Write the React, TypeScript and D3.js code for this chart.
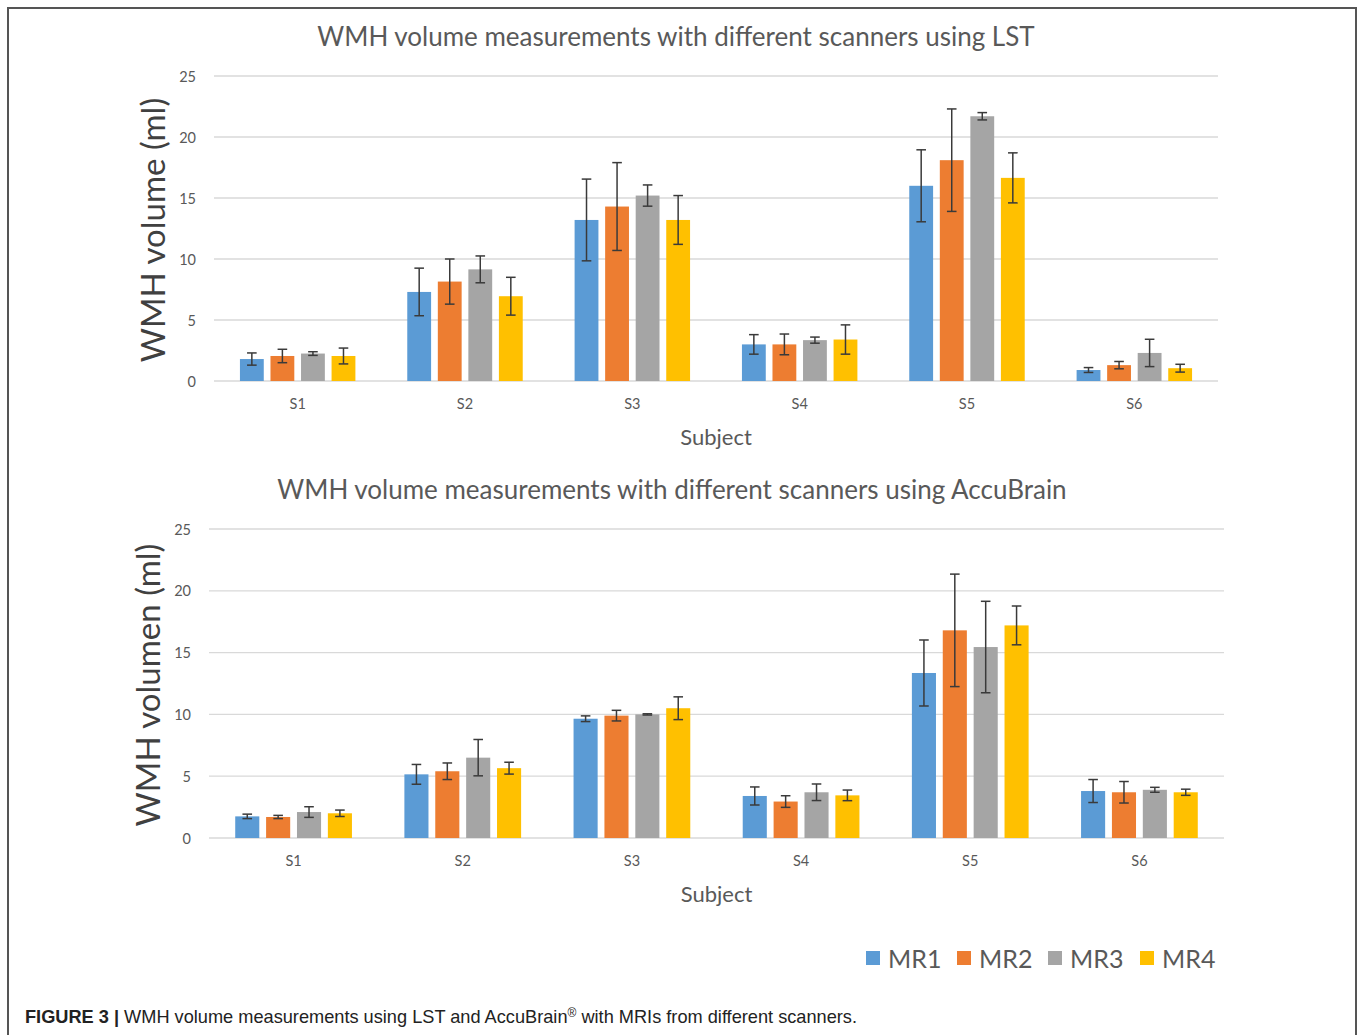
import React from "react";
import * as d3 from "d3";

// Subjects and scanners
const subjects = ["S1", "S2", "S3", "S4", "S5", "S6"];
const scanners = ["MR1", "MR2", "MR3", "MR4"];
const scannerColors = ["#5B9BD5", "#ED7D31", "#A5A5A5", "#FFC000"];
const yTicks = [0, 5, 10, 15, 20, 25];

// LST volumes (ml) per scanner, mean and error
const lstMR1 = [1.8, 7.3, 13.2, 3.0, 16.0, 0.9];
const lstMR2 = [2.05, 8.15, 14.3, 3.0, 18.1, 1.3];
const lstMR3 = [2.25, 9.15, 15.2, 3.35, 21.7, 2.3];
const lstMR4 = [2.05, 6.95, 13.2, 3.4, 16.65, 1.05];
const lstErr1 = [0.5, 1.95, 3.35, 0.8, 2.95, 0.2];
const lstErr2 = [0.55, 1.85, 3.6, 0.85, 4.2, 0.3];
const lstErr3 = [0.15, 1.1, 0.87, 0.25, 0.3, 1.12];
const lstErr4 = [0.65, 1.55, 2.0, 1.2, 2.05, 0.32];

// AccuBrain volumes (ml) per scanner, mean and error
const accMR1 = [1.75, 5.15, 9.65, 3.4, 13.35, 3.8];
const accMR2 = [1.7, 5.4, 9.9, 2.95, 16.8, 3.7];
const accMR3 = [2.1, 6.5, 10.0, 3.7, 15.45, 3.9];
const accMR4 = [2.0, 5.65, 10.5, 3.45, 17.2, 3.7];
const accErr1 = [0.18, 0.8, 0.23, 0.73, 2.67, 0.93];
const accErr2 = [0.13, 0.67, 0.43, 0.47, 4.55, 0.87];
const accErr3 = [0.43, 1.47, 0.05, 0.67, 3.7, 0.2];
const accErr4 = [0.26, 0.48, 0.92, 0.43, 1.57, 0.25];

const lstValues = [lstMR1, lstMR2, lstMR3, lstMR4];
const lstErrors = [lstErr1, lstErr2, lstErr3, lstErr4];
const accValues = [accMR1, accMR2, accMR3, accMR4];
const accErrors = [accErr1, accErr2, accErr3, accErr4];

const FONT = "Lato, 'Open Sans', sans-serif";
const GREY_TEXT = "#595959";

type PanelProps = {
  title: string;
  yTitle: string;
  values: number[][];
  errors: number[][];
  left: number;
  right: number;
  top: number;
  bottom: number;
  titleX: number;
  titleY: number;
  yTitleX: number;
  yTitleY: number;
};

function Panel(p: PanelProps) {
  const x0 = d3.scaleBand<string>().domain(subjects).range([p.left, p.right]).paddingInner(0.31).paddingOuter(0.155);
  const x1 = d3.scaleBand<string>().domain(scanners).range([0, x0.bandwidth()]).paddingInner(0.22).paddingOuter(0);
  const y = d3.scaleLinear().domain([0, 25]).range([p.bottom, p.top]);
  const cap = 4.8;
  return (
    <g>
      <text x={p.titleX} y={p.titleY} textAnchor="middle" fontFamily={FONT} fontSize={26} fill={GREY_TEXT}>
        {p.title}
      </text>
      <text
        transform={`translate(${p.yTitleX},${p.yTitleY}) rotate(-90)`}
        textAnchor="middle"
        dominantBaseline="central"
        fontFamily={FONT}
        fontSize={33}
        fill="#404040"
      >
        {p.yTitle}
      </text>
      {yTicks.map((t) => (
        <g key={t}>
          <line x1={p.left} x2={p.right} y1={y(t)} y2={y(t)} stroke="#D9D9D9" strokeWidth={1.3} />
          <text x={p.left - 18} y={y(t)} textAnchor="end" dominantBaseline="central" fontFamily={FONT} fontSize={14.5} fill={GREY_TEXT}>
            {t}
          </text>
        </g>
      ))}
      {subjects.map((s, i) => (
        <g key={s}>
          {scanners.map((m, j) => {
            const v = p.values[j][i];
            const e = p.errors[j][i];
            const bx = (x0(s) as number) + (x1(m) as number);
            const cx = bx + x1.bandwidth() / 2;
            return (
              <g key={m}>
                <rect x={bx} y={y(v)} width={x1.bandwidth()} height={y(0) - y(v)} fill={scannerColors[j]} />
                <g stroke="#3A3A3A" strokeWidth={1.5}>
                  <line x1={cx} x2={cx} y1={y(v + e)} y2={y(v - e)} />
                  <line x1={cx - cap} x2={cx + cap} y1={y(v + e)} y2={y(v + e)} />
                  <line x1={cx - cap} x2={cx + cap} y1={y(v - e)} y2={y(v - e)} />
                </g>
              </g>
            );
          })}
          <text
            x={(x0(s) as number) + x0.bandwidth() / 2}
            y={p.bottom + 22}
            textAnchor="middle"
            dominantBaseline="central"
            fontFamily={FONT}
            fontSize={14.5}
            fill={GREY_TEXT}
          >
            {s}
          </text>
        </g>
      ))}
      <text
        x={(p.left + p.right) / 2}
        y={p.bottom + 55}
        textAnchor="middle"
        dominantBaseline="central"
        fontFamily={FONT}
        fontSize={22}
        fill={GREY_TEXT}
      >
        Subject
      </text>
    </g>
  );
}

export default function App() {
  const legendX = [866, 957, 1048, 1140];
  return (
    <svg
      width={1360}
      height={1035}
      style={{ position: "absolute", left: 0, top: 0, background: "#fff" }}
    >
      <rect x={8} y={8} width={1348} height={1100} fill="#fff" stroke="#555" strokeWidth={2} />
      <Panel
        title="WMH volume measurements with different scanners using LST"
        yTitle="WMH volume (ml)"
        values={lstValues}
        errors={lstErrors}
        left={214}
        right={1218}
        top={76}
        bottom={381}
        titleX={676}
        titleY={46}
        yTitleX={152}
        yTitleY={230}
      />
      <Panel
        title="WMH volume measurements with different scanners using AccuBrain"
        yTitle="WMH volumen (ml)"
        values={accValues}
        errors={accErrors}
        left={209}
        right={1224}
        top={529}
        bottom={838}
        titleX={672}
        titleY={499}
        yTitleX={147}
        yTitleY={685}
      />
      {scanners.map((m, j) => (
        <g key={m}>
          <rect x={legendX[j]} y={951} width={14} height={14} fill={scannerColors[j]} />
          <text x={legendX[j] + 22} y={958} dominantBaseline="central" fontFamily={FONT} fontSize={25} fill={GREY_TEXT}>
            {m}
          </text>
        </g>
      ))}
      <text x={25} y={1023} fontFamily="'Liberation Sans', Arial, sans-serif" fontSize={18.2} fill="#222">
        <tspan fontWeight="bold">FIGURE 3 | </tspan>
        <tspan>WMH volume measurements using LST and AccuBrain</tspan>
        <tspan fontSize={12} dy={-6}>®</tspan>
        <tspan dy={6}> with MRIs from different scanners.</tspan>
      </text>
    </svg>
  );
}
